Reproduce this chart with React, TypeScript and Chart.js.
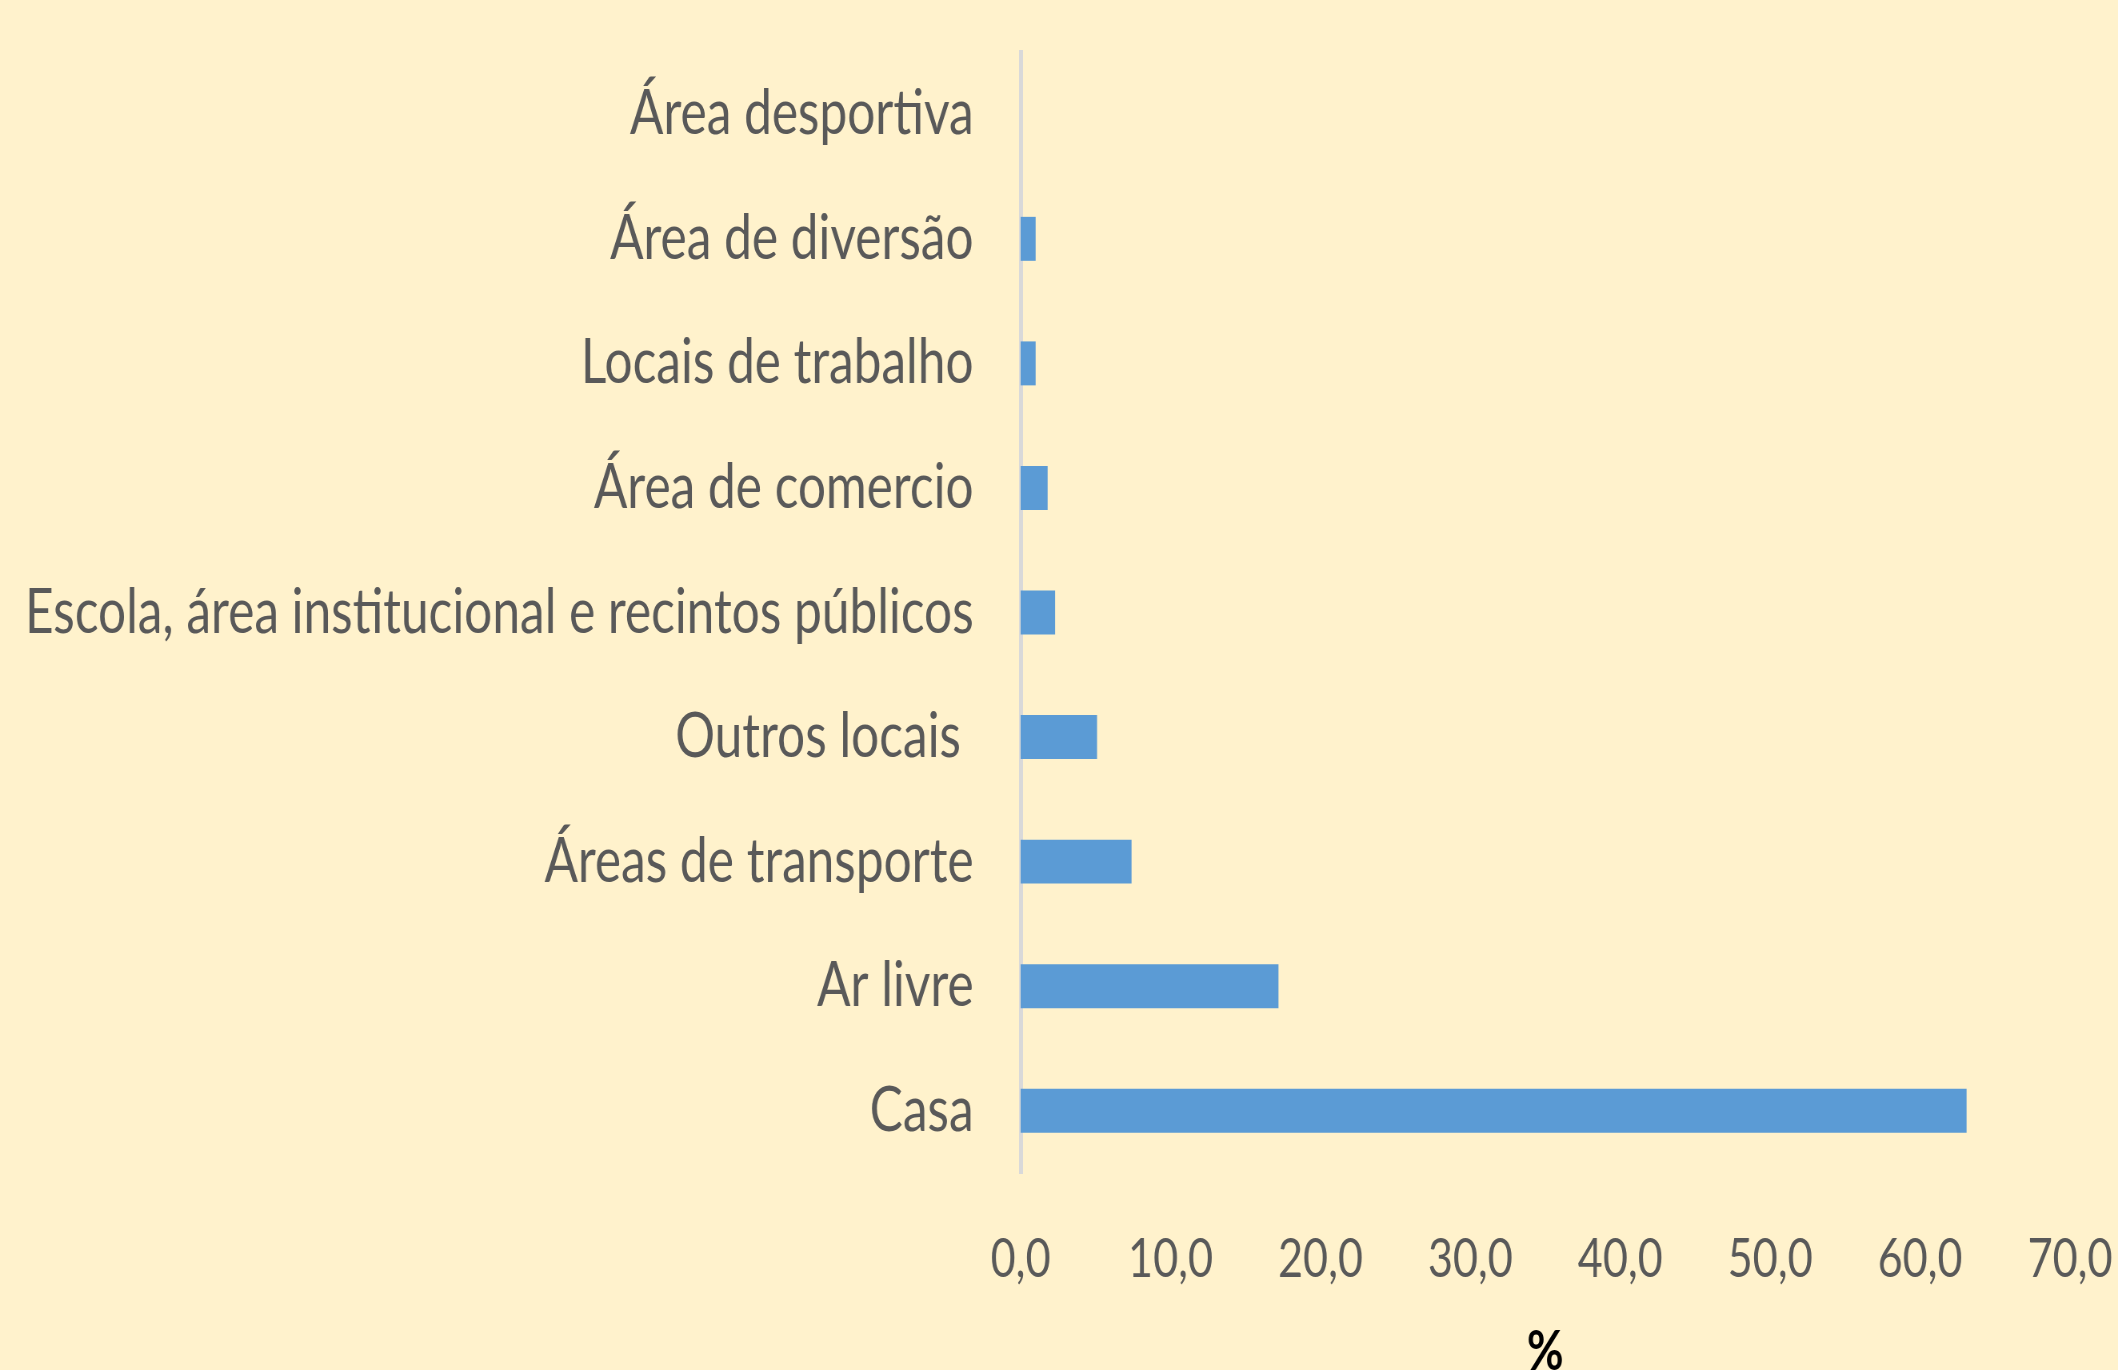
import React, { useEffect, useRef } from 'react';
import { Chart, registerables } from 'chart.js';

Chart.register(...registerables);

const categories = [
  'Área desportiva',
  'Área de diversão',
  'Locais de trabalho',
  'Área de comercio',
  'Escola, área institucional e recintos públicos',
  'Outros locais ',
  'Áreas de transporte',
  'Ar livre',
  'Casa',
];
const values = [0, 1.0, 1.0, 1.8, 2.3, 5.1, 7.4, 17.2, 63.1];
const xTicks = [0, 10, 20, 30, 40, 50, 60, 70];
const axisTitle = '%';

const FONT = 'Lato, "Open Sans", sans-serif';
const TEXT = '#595959';

// The original chart's text is horizontally condensed; the canvas is drawn wider
// and displayed at the page width, which condenses everything horizontally by K.
const PAGE_W = 2118;
const PAGE_H = 1370;
const K = 0.8;
const CANVAS_W = Math.round(PAGE_W / K);

const zeroPadding = (s: any) => {
  s.paddingLeft = 0;
  s.paddingRight = 0;
  s.paddingTop = 0;
  s.paddingBottom = 0;
};

export default function App() {
  const ref = useRef<HTMLCanvasElement>(null);
  useEffect(() => {
    const chart = new Chart(ref.current as HTMLCanvasElement, {
      type: 'bar',
      data: {
        labels: categories,
        datasets: [
          {
            data: values,
            backgroundColor: '#5B9BD5',
            borderWidth: 0,
            categoryPercentage: 1,
            barPercentage: 0.353,
          },
        ],
      },
      options: {
        indexAxis: 'y',
        responsive: false,
        animation: false,
        devicePixelRatio: 1,
        layout: { padding: { top: 52, right: Math.round(48 / K), left: 0, bottom: 0 } },
        plugins: { legend: { display: false }, tooltip: { enabled: false } },
        scales: {
          x: {
            min: 0,
            max: 70,
            afterBuildTicks: (s: any) => {
              s.ticks = xTicks.map((v) => ({ value: v }));
            },
            ticks: {
              callback: (v: any) => Number(v).toFixed(1).replace('.', ','),
              color: TEXT,
              font: { family: FONT, size: 54 },
              padding: 54,
              maxRotation: 0,
              autoSkip: false,
            },
            grid: { display: false, drawTicks: false },
            border: { display: false },
            title: {
              display: true,
              text: axisTitle,
              color: '#000000',
              font: { family: FONT, size: 56, weight: 'bold' },
              padding: { top: 0, bottom: -16 },
            },
            afterFit: (s: any) => {
              s.height = 197;
              zeroPadding(s);
            },
          },
          y: {
            ticks: {
              color: TEXT,
              font: { family: FONT, size: 62 },
              padding: 47 / K,
              autoSkip: false,
            },
            grid: { display: false, drawTicks: false },
            border: { display: true, color: '#D9D9D9', width: 4 / K },
            afterFit: (s: any) => {
              s.width = Math.round(1021 / K);
              zeroPadding(s);
            },
          },
        },
      },
    } as any);
    return () => chart.destroy();
  }, []);
  return (
    <div
      style={{
        position: 'fixed',
        left: 0,
        top: 0,
        width: PAGE_W,
        height: PAGE_H,
        background: '#FFF2CC',
        overflow: 'hidden',
      }}
    >
      <canvas
        ref={ref}
        width={CANVAS_W}
        height={PAGE_H}
        style={{ display: 'block', width: PAGE_W + 'px', height: PAGE_H + 'px' }}
      />
    </div>
  );
}
